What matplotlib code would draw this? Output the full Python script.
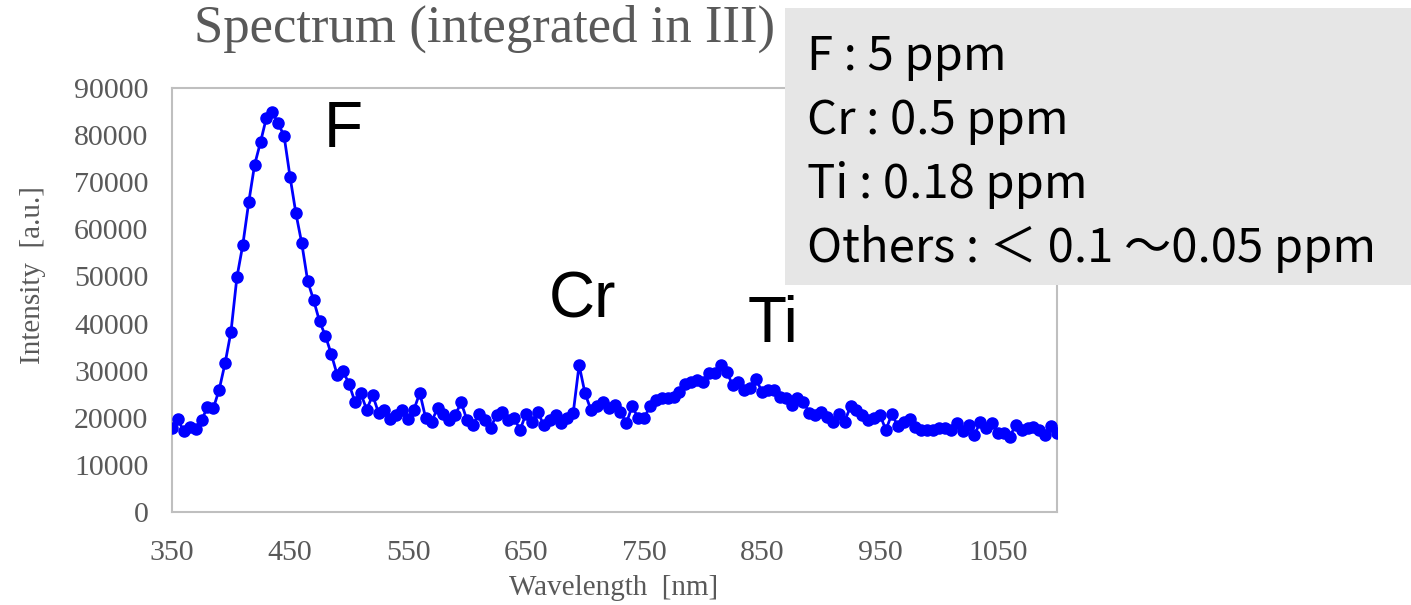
import numpy as np
import matplotlib
matplotlib.use("Agg")
import matplotlib.pyplot as plt

# wavelength grid (nm) and integrated intensity (a.u.)
wavelength = np.arange(350, 1101, 5)
intensity = [
    17800, 19700, 17100, 18100, 17600, 19500, 22200, 22000, 26000, 31600,
    38300, 49800, 56700, 65700, 73700, 78500, 83700, 84900, 82500, 79800,
    71200, 63400, 57000, 49000, 45000, 40500, 37400, 33500, 29100, 29900,
    27200, 23400, 25200, 21700, 24800, 21100, 21700, 19700, 20600, 21700,
    19700, 21700, 25300, 19900, 19200, 22000, 20900, 19500, 20500, 23300,
    19500, 18400, 20900, 19500, 17800, 20600, 21300, 19500, 19900, 17400,
    20900, 19200, 21300, 18400, 19500, 20600, 18800, 19900, 21000, 31200,
    25200, 21700, 22400, 23400, 22000, 22700, 21300, 18800, 22500, 19900,
    19900, 22400, 23800, 24100, 24300, 24500, 25500, 27200, 27700, 28000,
    27500, 29600, 29400, 31200, 29800, 27000, 27700, 26000, 26300, 28200,
    25500, 26000, 26000, 24500, 24100, 22700, 24100, 23400, 21100, 20600,
    21300, 20200, 19200, 20900, 19200, 22400, 21600, 20600, 19500, 19900,
    20600, 17400, 20800, 18300, 19200, 19700, 18100, 17300, 17500, 17400,
    17800, 17800, 17400, 18800, 17100, 18500, 16300, 19200, 17800, 18800,
    16700, 16700, 16000, 18500, 17500, 17800, 18000, 17300, 16300, 18300,
    16700,
]

x_ticks = [350, 450, 550, 650, 750, 850, 950, 1050]
y_ticks = list(range(0, 90001, 10000))

peak_labels = ["F", "Cr", "Ti"]
peak_pos = [(495, 81000), (698, 45000), (859, 39700)]

box_lines = ["F : 5 ppm", "Cr : 0.5 ppm", "Ti : 0.18 ppm", "Others : ＜ 0.1 ～0.05 ppm"]

GRAY = "#595959"
SERIF = "Liberation Serif"

fig = plt.figure(figsize=(14.11, 6.05), dpi=100)
ax = fig.add_axes([172 / 1411, 1 - 512 / 605, (1057 - 172) / 1411, (512 - 88) / 605])

ax.plot(wavelength, intensity, color="#0000ff", lw=2.0, marker="o", ms=8, zorder=3)

ax.set_xlim(350, 1100)
ax.set_ylim(0, 90000)
ax.set_xticks(x_ticks)
ax.set_yticks(y_ticks)
ax.tick_params(length=0, labelsize=21.5, labelcolor=GRAY)
ax.tick_params(axis="x", pad=20)
ax.tick_params(axis="y", pad=17)
for lbl in ax.get_xticklabels() + ax.get_yticklabels():
    lbl.set_family(SERIF)
for s in ax.spines.values():
    s.set_color("#bfbfbf")
    s.set_linewidth(1.5)

for name, (px, py) in zip(peak_labels, peak_pos):
    ax.text(px, py, name, fontsize=46, family="Liberation Sans", ha="center", va="center")

fig.text(485 / 1411, 1 - 29 / 605, "Spectrum (integrated in III)", family=SERIF,
         fontsize=38, color=GRAY, ha="center", va="center")
fig.text(614 / 1411, 1 - 588 / 605, "Wavelength  [nm]", family=SERIF,
         fontsize=21, color=GRAY, ha="center", va="center")
fig.text(33 / 1411, 1 - 275 / 605, "Intensity  [a.u.]", family=SERIF,
         fontsize=21, color=GRAY, ha="center", va="center", rotation=90)

# grey info box in the upper right
fig.patches.append(plt.Rectangle((785 / 1411, 1 - 285 / 605), (1411 - 785) / 1411, (285 - 8) / 605,
                                 transform=fig.transFigure, facecolor="#e6e6e6", edgecolor="none",
                                 zorder=5))
for i, line in enumerate(box_lines):
    fig.text(807 / 1411, 1 - (57 + 64 * i) / 605, line, family=["Noto Sans CJK JP", "DejaVu Sans"],
             fontsize=34, ha="left", va="center", zorder=6)

fig.savefig("out.png", dpi=100)
